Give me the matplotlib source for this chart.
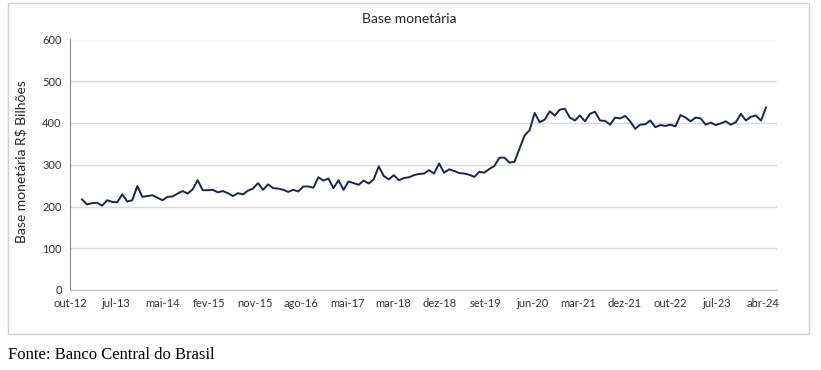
import matplotlib.pyplot as plt
import numpy as np
from matplotlib.patches import Rectangle

plt.rcParams['font.family'] = ['Lato', 'DejaVu Sans']

# Base monetária, R$ bilhões (série mensal)
base = [217, 205, 208, 209, 202, 215, 211, 210, 229, 212,
        215, 249, 223, 225, 227, 221, 215, 223, 224, 231,
        237, 231, 241, 263, 239, 239, 240, 234, 237, 232,
        225, 232, 229, 238, 243, 256, 240, 253, 244, 243,
        240, 235, 240, 236, 248, 248, 245, 270, 262, 267,
        244, 263, 240, 260, 256, 252, 262, 255, 265, 296,
        273, 265, 275, 263, 268, 270, 275, 278,
        279, 287, 279, 303, 281, 289, 285, 280, 279, 276,
        271, 283, 281, 290, 297, 317, 317, 305, 307, 339,
        370, 383, 424, 402, 408, 428, 418, 432, 434, 413,
        406, 418, 404, 422, 427, 406, 405, 396, 413, 411,
        417, 404, 386, 396, 397, 406, 390, 395, 393, 396,
        392, 419, 413, 404, 413, 411, 396, 401, 395, 399,
        404, 396, 402, 422, 406, 415, 418, 406, 437]

tick_labels = ['out-12', 'jul-13', 'mai-14', 'fev-15', 'nov-15', 'ago-16',
               'mai-17', 'mar-18', 'dez-18', 'set-19', 'jun-20', 'mar-21',
               'dez-21', 'out-22', 'jul-23', 'abr-24']
y_ticks = [0, 100, 200, 300, 400, 500, 600]

W, H = 821, 370
fig = plt.figure(figsize=(W / 100, H / 100), dpi=100)
ax = fig.add_axes([70 / W, 1 - 290 / H, (777 - 70) / W, (290 - 39.5) / H])

n = len(base)
x = np.arange(n)
ax.plot(x, base, color='#1c2452', lw=1.4, solid_joinstyle='round')

# horizontal layout: first point a bit right of the axis, labels spaced evenly
step = (766 - 82) / (n - 1)
left = -(82 - 70) / step
right = (n - 1) + (777 - 766) / step
ax.set_xlim(left, right)
ax.set_xticks(np.linspace(left, (763 - 82) / step, len(tick_labels)))
ax.set_xticklabels(tick_labels)

ax.set_ylim(0, 600)
ax.set_yticks(y_ticks)
ax.yaxis.grid(True, color='#d9d9d9', lw=1)
ax.set_axisbelow(True)

for s in ['top', 'right']:
    ax.spines[s].set_visible(False)
ax.spines['left'].set_color('#8c8c8c')
ax.spines['bottom'].set_color('#bfbfbf')
ax.tick_params(length=0, labelsize=8, colors='#333333', pad=6)

fig.text(409 / W, 1 - 19 / H, 'Base monetária', ha='center', va='center',
         fontsize=10, color='#262626')
fig.text(21.5 / W, 1 - 162 / H, 'Base monetária R$ Bilhões', rotation=90,
         ha='center', va='center', fontsize=10, color='#262626')
fig.text(8 / W, 1 - 355 / H, 'Fonte: Banco Central do Brasil',
         family='Liberation Serif', fontsize=12, va='center')

fig.patches.append(Rectangle((8 / W, 1 - 334 / H), (809 - 8) / W, (334 - 3) / H,
                             transform=fig.transFigure, fill=False,
                             ec='#d0d0d0', lw=1))

fig.savefig('out.png', dpi=100)
